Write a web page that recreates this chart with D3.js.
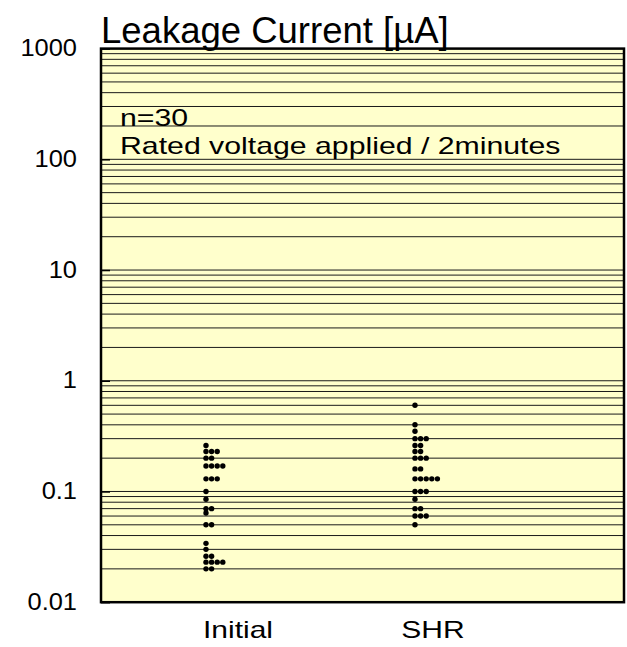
<!DOCTYPE html>
<html>
<head>
<meta charset="utf-8">
<script src="https://cdn.jsdelivr.net/npm/d3@7"></script>
<style>
  body { margin: 0; background: #fff; }
  text { font-family: "Liberation Sans", Arial, sans-serif; fill: #000; }
</style>
</head>
<body>
<div id="chart"></div>
<script>
// data
const categories = ["Initial", "SHR"];
const yTickValues = [0.01, 0.1, 1, 10, 100, 1000];
const yTickLabels = ["0.01", "0.1", "1", "10", "100", "1000"];
const initialValues = [0.26, 0.23, 0.23, 0.23, 0.2, 0.2, 0.17, 0.17, 0.17, 0.17,
    0.13, 0.13, 0.13, 0.1, 0.085, 0.07, 0.07, 0.064, 0.05, 0.05,
    0.034, 0.03, 0.026, 0.026, 0.023, 0.023, 0.023, 0.023, 0.02, 0.02];
const shrValues = [0.6, 0.4, 0.35, 0.3, 0.3, 0.3, 0.26, 0.26, 0.23, 0.23,
    0.2, 0.2, 0.2, 0.16, 0.16, 0.13, 0.13, 0.13, 0.13, 0.13,
    0.1, 0.1, 0.1, 0.085, 0.07, 0.07, 0.06, 0.06, 0.06, 0.05];
const titleText = "Leakage Current [\u00b5A]";
const noteLines = ["n=30", "Rated voltage applied / 2minutes"];

const W = 627, H = 647;
const plot = { left: 101, right: 624, top: 48.6, bottom: 602.2 };

const svg = d3.select("#chart").append("svg")
    .attr("width", W)
    .attr("height", H);

const y = d3.scaleLog().domain([0.01, 1000]).range([plot.bottom, plot.top]);
const dotX = d3.scalePoint().domain(categories).range([206, 415]);
const labelX = d3.scalePoint().domain(categories).range([238, 433]);

// the reference draws some text wider than the normal font
function widen(sel, factor) {
    sel.each(function () {
        const len = this.getComputedTextLength();
        d3.select(this).attr("textLength", len * factor).attr("lengthAdjust", "spacingAndGlyphs");
    });
}

// background
svg.append("rect")
    .attr("x", plot.left).attr("y", plot.top)
    .attr("width", plot.right - plot.left)
    .attr("height", plot.bottom - plot.top)
    .attr("fill", "#ffffcc");

// gridlines at every log tick
svg.append("g").selectAll("line")
    .data(y.ticks())
    .enter()
    .append("line")
    .attr("x1", plot.left).attr("x2", plot.right)
    .attr("y1", d => y(d)).attr("y2", d => y(d))
    .attr("stroke", "#1a1a1a")
    .attr("stroke-width", 1);

// left axis with short inward ticks
const yAxis = svg.append("g")
    .attr("transform", `translate(${plot.left},0)`)
    .call(d3.axisLeft(y)
        .tickValues(yTickValues)
        .tickFormat((d, i) => yTickLabels[i])
        .tickSizeInner(-9)
        .tickSizeOuter(0)
        .tickPadding(24));
yAxis.select(".domain").remove();
yAxis.selectAll(".tick line").attr("stroke", "#000").attr("stroke-width", 1.5);
yAxis.selectAll(".tick text")
    .attr("font-size", 24)
    .attr("font-family", "Liberation Sans, Arial, sans-serif")
    .attr("fill", "#000")
    .attr("dy", "0.3em")
    .call(widen, 1.06);

// frame
svg.append("rect")
    .attr("x", plot.left).attr("y", plot.top)
    .attr("width", plot.right - plot.left)
    .attr("height", plot.bottom - plot.top)
    .attr("fill", "none")
    .attr("stroke", "#000")
    .attr("stroke-width", 2.5);

// dots, equal values stacked to the right
const dotStep = 5.6;
function stacked(values, cat) {
    const seen = {};
    return values.map(v => {
        const k = seen[v] || 0;
        seen[v] = k + 1;
        return { cat: cat, value: v, k: k };
    });
}
const points = stacked(initialValues, "Initial").concat(stacked(shrValues, "SHR"));
svg.append("g").selectAll("circle")
    .data(points)
    .enter()
    .append("circle")
    .attr("cx", d => dotX(d.cat) + d.k * dotStep)
    .attr("cy", d => y(d.value))
    .attr("r", 2.7)
    .attr("fill", "#000");

// category labels
svg.append("g").selectAll("text")
    .data(categories)
    .enter()
    .append("text")
    .attr("x", d => labelX(d))
    .attr("y", 638)
    .attr("text-anchor", "middle")
    .attr("font-size", 24)
    .text(d => d)
    .call(widen, 1.25);

// title
svg.append("text")
    .attr("x", 101)
    .attr("y", 43)
    .attr("font-size", 36.5)
    .text(titleText);

// note
svg.append("g").selectAll("text")
    .data(noteLines)
    .enter()
    .append("text")
    .attr("x", 120)
    .attr("y", (d, i) => 126 + i * 28)
    .attr("font-size", 24)
    .text(d => d)
    .call(widen, 1.26);
</script>
</body>
</html>
